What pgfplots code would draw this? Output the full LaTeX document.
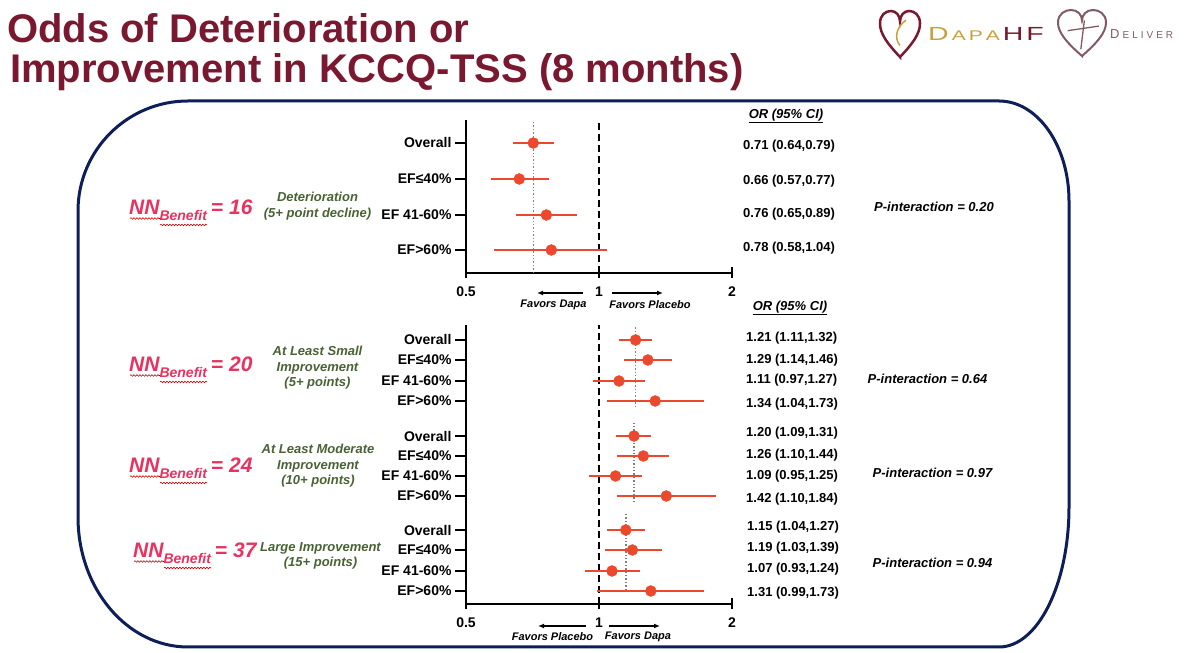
\documentclass[border=0pt]{standalone}
\usepackage{fontspec}
\setmainfont{Liberation Sans}
\usepackage{pgfplots}
\pgfplotsset{compat=1.18}
\usepackage{pgfplotstable}
\usetikzlibrary{decorations.pathmorphing,arrows.meta}

\definecolor{titlered}{RGB}{122,24,48}
\definecolor{navy}{RGB}{14,30,88}
\definecolor{dotred}{RGB}{236,72,45}
\definecolor{nnpink}{RGB}{232,50,95}
\definecolor{grpgreen}{RGB}{72,98,52}
\definecolor{logogold}{RGB}{200,160,60}
\definecolor{mauve}{RGB}{130,90,100}
\newcommand\fs[1]{\fontsize{#1}{#1}\selectfont}

% pos = vertical position of the row (picture units), est = odds ratio, lo/hi = 95% CI
\pgfplotstableread{
pos est lo hi
510 0.71 0.64 0.79
474 0.66 0.57 0.77
438 0.76 0.65 0.89
403 0.78 0.58 1.04
}\detdata
\pgfplotstableread{
pos est lo hi
313 1.21 1.11 1.32
293 1.29 1.14 1.46
272 1.11 0.97 1.27
252 1.34 1.04 1.73
}\smalldata
\pgfplotstableread{
pos est lo hi
217 1.20 1.09 1.31
197 1.26 1.10 1.44
177 1.09 0.95 1.25
157 1.42 1.10 1.84
}\moddata
\pgfplotstableread{
pos est lo hi
123 1.15 1.04 1.27
103 1.19 1.03 1.39
82 1.07 0.93 1.24
62 1.31 0.99 1.73
}\largedata

\pgfplotsset{
  every axis/.append style={scale only axis, width=266pt, xmode=log, xmin=0.5, xmax=2, clip=false,
    axis x line=bottom, axis y line=left, axis line style={line width=2.2pt,-},
    xtick={0.5,1,2}, xticklabels={0.5,1,2}, minor tick num=0,
    xtick align=center, ytick align=outside, major tick length=11pt,
    tick style={line width=2pt,black},
    xticklabel style={font=\bfseries\fs{14},yshift=-5pt},
    yticklabel style={font=\bfseries\fs{14}}},
  ci/.style={only marks, mark=*, mark size=5.5pt, color=dotred,
    error bars/x dir=both, error bars/x explicit, error bars/error mark=none,
    error bars/error bar style={line width=2.3pt,dotred}},
}
\tikzset{
  refline/.style={black, line width=2.2pt, dash pattern=on 7pt off 4pt},
  ovline/.style={gray, line width=1.4pt, dash pattern=on 1.4pt off 2pt},
}

\begin{document}
\begin{tikzpicture}
\begin{scope}[x=1pt,y=1pt]
\useasboundingbox (0,0) rectangle (1200,653);

% title
\node[anchor=base west,inner sep=0,text=titlered,font=\bfseries\fs{40}] at (7,610) {Odds of Deterioration or};
\node[anchor=base west,inner sep=0,text=titlered,font=\bfseries\fs{40}] at (10,570) {Improvement in KCCQ-TSS (8 months)};

% logos
\begin{scope}[shift={(900,619)},xscale=20,yscale=23]
\draw[titlered,line width=2.5pt] (0,-1) .. controls (-0.6,-0.45) and (-1,0) .. (-1,0.45) .. controls (-1,0.85) and (-0.7,1) .. (-0.45,1) .. controls (-0.2,1) and (0,0.8) .. (0,0.55) .. controls (0,0.8) and (0.2,1) .. (0.45,1) .. controls (0.7,1) and (1,0.85) .. (1,0.45) .. controls (1,0) and (0.6,-0.45) .. cycle;
\draw[logogold,line width=1.5pt] (0.3,0.6) .. controls (-0.2,0.3) and (-0.3,-0.2) .. (0,-0.5);
\end{scope}
\node[anchor=base west,inner sep=0] at (928,612) {\scalebox{1.5}[1]{\color{logogold}\fs{19}D\hspace{2pt}\fs{14}A\hspace{2pt}P\hspace{2pt}A\hspace{2pt}\color{titlered}\fs{19}H\hspace{2pt}F}};
\begin{scope}[shift={(1082,620)},xscale=24,yscale=23]
\draw[mauve,line width=2pt] (0,-1) .. controls (-0.6,-0.45) and (-1,0) .. (-1,0.45) .. controls (-1,0.85) and (-0.7,1) .. (-0.45,1) .. controls (-0.2,1) and (0,0.8) .. (0,0.55) .. controls (0,0.8) and (0.2,1) .. (0.45,1) .. controls (0.7,1) and (1,0.85) .. (1,0.45) .. controls (1,0) and (0.6,-0.45) .. cycle;
\draw[mauve,line width=1.3pt] (-0.6,0.1) -- (0.7,0.3) (0.1,0.55) -- (-0.05,-0.7);
\end{scope}
\node[anchor=base west,inner sep=0,text=mauve] at (1110,614) {\fs{13}D\hspace{3pt}\fs{10}E\hspace{3pt}L\hspace{3pt}I\hspace{3pt}V\hspace{3pt}E\hspace{3pt}R};

% rounded frame
\draw[navy,line width=3pt] (188,552) -- (999,552) arc[start angle=90,end angle=0,x radius=70,y radius=100]
  -- (1069,146) arc[start angle=0,end angle=-90,x radius=70,y radius=140]
  -- (188,6) arc[start angle=270,end angle=180,x radius=110,y radius=130]
  -- (78,442) arc[start angle=180,end angle=90,x radius=110,y radius=110] -- cycle;

% favors arrows
\draw[-{Latex[length=6pt,width=5pt]},line width=1.4pt] (583,360) -- (537,360);
\draw[-{Latex[length=6pt,width=5pt]},line width=1.4pt] (612,360) -- (663,360);
\node[font=\bfseries\itshape\fs{11}] at (553.5,348) {Favors Dapa};
\node[font=\bfseries\itshape\fs{11}] at (650,348) {Favors Placebo};
\draw[-{Latex[length=6pt,width=5pt]},line width=1.4pt] (586,27) -- (538,27);
\draw[-{Latex[length=6pt,width=5pt]},line width=1.4pt] (609,27) -- (660,27);
\node[font=\bfseries\itshape\fs{11}] at (552.5,16) {Favors Placebo};
\node[font=\bfseries\itshape\fs{11}] at (638,16) {Favors Dapa};

% OR column
\begin{scope}[every node/.style={anchor=west,inner sep=0,font=\bfseries\fs{13}}]
\node[anchor=center] at (786,537) {\itshape\underline{OR (95\% CI)}};
\node at (743,507) {0.71 (0.64,0.79)};
\node at (743,472) {0.66 (0.57,0.77)};
\node at (743,439) {0.76 (0.65,0.89)};
\node at (743,405) {0.78 (0.58,1.04)};
\node[anchor=center] at (790,345) {\itshape\underline{OR (95\% CI)}};
\node at (746,315) {1.21 (1.11,1.32)};
\node at (746,293) {1.29 (1.14,1.46)};
\node at (746,273) {1.11 (0.97,1.27)};
\node at (746,249) {1.34 (1.04,1.73)};
\node at (746,220) {1.20 (1.09,1.31)};
\node at (746,198) {1.26 (1.10,1.44)};
\node at (746,177) {1.09 (0.95,1.25)};
\node at (746,154) {1.42 (1.10,1.84)};
\node at (747,126) {1.15 (1.04,1.27)};
\node at (747,105) {1.19 (1.03,1.39)};
\node at (747,84) {1.07 (0.93,1.24)};
\node at (747,60) {1.31 (0.99,1.73)};
\end{scope}

% P-interaction
\begin{scope}[every node/.style={font=\bfseries\itshape\fs{13}}]
\node at (934,446) {P-interaction = 0.20};
\node at (927.5,274) {P-interaction = 0.64};
\node at (932.5,180) {P-interaction = 0.97};
\node at (932.5,90) {P-interaction = 0.94};
\end{scope}

% group labels
\begin{scope}[every node/.style={align=center,text=grpgreen,font=\bfseries\itshape\fontsize{13}{15.5}\selectfont}]
\node at (317.5,447) {Deterioration\\(5+ point decline)};
\node at (317.5,285) {At Least Small\\Improvement\\(5+ points)};
\node at (318,187) {At Least Moderate\\Improvement\\(10+ points)};
\node at (320.5,97) {Large Improvement\\(15+ points)};
\end{scope}

% NN benefit labels
\begin{scope}[every node/.style={anchor=base west,inner sep=0,text=nnpink,font=\bfseries\itshape}]
\node at (129,438) {\fs{21}NN\fs{14}\raisebox{-6pt}{Benefit}\hspace{4pt}\fs{21}=\hspace{6pt}16};
\node at (129,281) {\fs{21}NN\fs{14}\raisebox{-6pt}{Benefit}\hspace{4pt}\fs{21}=\hspace{6pt}20};
\node at (129,180) {\fs{21}NN\fs{14}\raisebox{-6pt}{Benefit}\hspace{4pt}\fs{21}=\hspace{6pt}24};
\node at (133,95) {\fs{21}NN\fs{14}\raisebox{-6pt}{Benefit}\hspace{4pt}\fs{21}=\hspace{6pt}37};
\end{scope}
\begin{scope}[red!80!black,line width=0.6pt,decoration={snake,amplitude=0.8pt,segment length=3pt}]
\foreach \x/\y in {129/438,129/281,129/180,133/95}{
  \draw[decorate] (\x+1,\y-3.5) -- (\x+31,\y-3.5);
  \draw[decorate] (\x+31,\y-10) -- (\x+78,\y-10);
}
\end{scope}
\end{scope}

% top forest plot
\begin{axis}[at={(466pt,380pt)}, anchor=south west, height=153pt, ymin=380, ymax=533,
  ytick={510,474,438,403}, yticklabels={Overall,EF≤40\%,EF 41-60\%,EF>60\%}]
\addplot[refline] coordinates {(1,380) (1,533)};
\addplot[ovline] coordinates {(0.71,380) (0.71,533)};
\addplot[ci] table[x=est,y=pos,x error plus expr=\thisrow{hi}-\thisrow{est},x error minus expr=\thisrow{est}-\thisrow{lo}] {\detdata};
\end{axis}

% bottom forest plot
\begin{axis}[at={(466pt,49pt)}, anchor=south west, height=279pt, ymin=49, ymax=328,
  ytick={313,293,272,252,217,197,177,157,123,103,82,62},
  yticklabels={Overall,EF≤40\%,EF 41-60\%,EF>60\%,Overall,EF≤40\%,EF 41-60\%,EF>60\%,Overall,EF≤40\%,EF 41-60\%,EF>60\%}]
\addplot[refline] coordinates {(1,49) (1,328)};
\addplot[ovline] coordinates {(1.21,246) (1.21,326)};
\addplot[ovline] coordinates {(1.20,151) (1.20,230)};
\addplot[ovline] coordinates {(1.15,63) (1.15,140)};
\addplot[ci] table[x=est,y=pos,x error plus expr=\thisrow{hi}-\thisrow{est},x error minus expr=\thisrow{est}-\thisrow{lo}] {\smalldata};
\addplot[ci] table[x=est,y=pos,x error plus expr=\thisrow{hi}-\thisrow{est},x error minus expr=\thisrow{est}-\thisrow{lo}] {\moddata};
\addplot[ci] table[x=est,y=pos,x error plus expr=\thisrow{hi}-\thisrow{est},x error minus expr=\thisrow{est}-\thisrow{lo}] {\largedata};
\end{axis}
\end{tikzpicture}
\end{document}
